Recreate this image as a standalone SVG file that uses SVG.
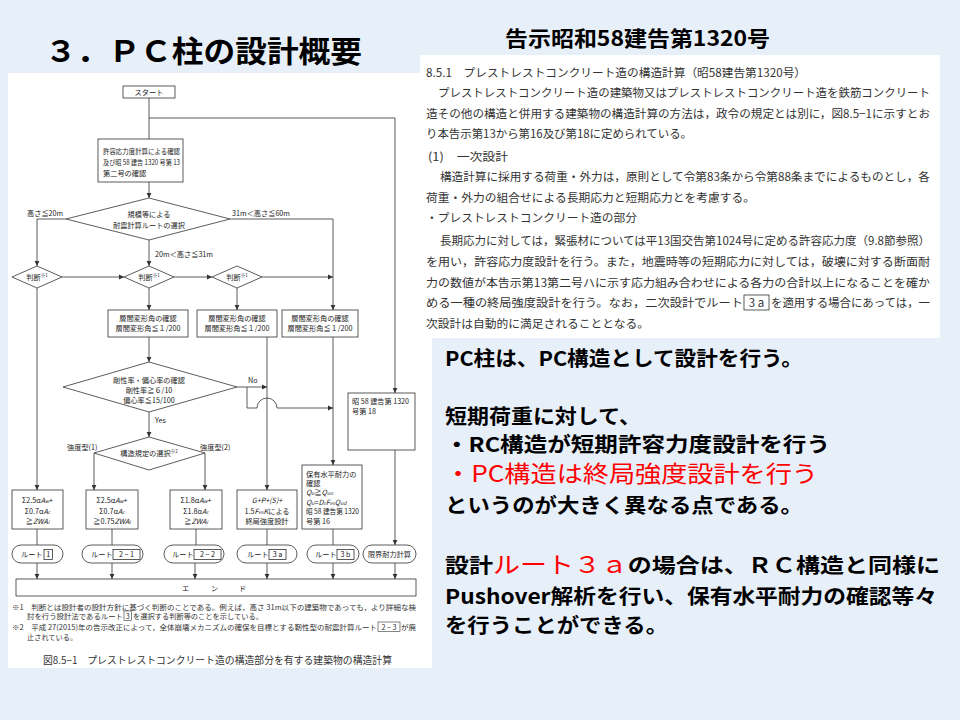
<svg xmlns="http://www.w3.org/2000/svg" width="960" height="720" viewBox="0 0 960 720">
<style>
.ln{fill:none;stroke:#333;stroke-width:0.8}
.bx{fill:#fff;stroke:#333;stroke-width:0.8}
.ft{font-family:"Noto Sans CJK JP","Noto Sans CJK SC",sans-serif;font-size:7.2px;fill:#222}
.fn{font-family:"Noto Sans CJK JP",sans-serif;font-size:7.2px;fill:#333}
.c{text-anchor:middle}
.it{font-style:italic}
.rt{font-family:"Noto Sans CJK JP",sans-serif;font-size:11.5px;fill:#333}
.big{font-family:"Noto Sans CJK JP",sans-serif;font-size:20.5px;font-weight:bold;fill:#000}
.red{fill:#ff0000;font-weight:normal;font-size:23px}
</style>
<defs>
<marker id="ah" markerWidth="6" markerHeight="6" refX="5" refY="3" orient="auto" markerUnits="userSpaceOnUse"><path d="M0,0.6 L5,3 L0,5.4 Z" fill="#333"/></marker>
</defs>
<rect width="960" height="720" fill="#e7eff9"/>
<rect x="8" y="73" width="424" height="595" fill="#fff"/>
<rect x="420" y="55" width="520" height="283" fill="#fff"/>

<text x="45" y="62" font-family="'Noto Sans CJK JP',sans-serif" font-size="30" font-weight="bold" fill="#000" textLength="317" lengthAdjust="spacingAndGlyphs">３．ＰＣ柱の設計概要</text>
<text x="505" y="46" font-family="'Noto Sans CJK JP',sans-serif" font-size="21" font-weight="bold" fill="#000" textLength="265" lengthAdjust="spacingAndGlyphs">告示昭和58建告第1320号</text>

<g id="connectors">
<path class="ln" d="M149,98 V139"/>
<path class="ln" d="M149,118 H395 V393" marker-end="url(#ah)"/>
<path class="ln" d="M149,182 V198" marker-end="url(#ah)"/>
<path class="ln" d="M66,219 H37 V266" marker-end="url(#ah)"/>
<path class="ln" d="M230,219 H333 V310" marker-end="url(#ah)"/>
<path class="ln" d="M149,240 V266" marker-end="url(#ah)"/>
<path class="ln" d="M62,277 H124" marker-end="url(#ah)"/>
<path class="ln" d="M174,277 H212" marker-end="url(#ah)"/>
<path class="ln" d="M262,277 H333" marker-end="url(#ah)"/>
<path class="ln" d="M37,288 V490" marker-end="url(#ah)"/>
<path class="ln" d="M149,288 V310" marker-end="url(#ah)"/>
<path class="ln" d="M237,288 V310" marker-end="url(#ah)"/>
<path class="ln" d="M149,337 V362" marker-end="url(#ah)"/>
<path class="ln" d="M267,337 V490" marker-end="url(#ah)"/>
<path class="ln" d="M333,337 V465" marker-end="url(#ah)"/>
<path class="ln" d="M237,387 H267" marker-end="url(#ah)"/>
<path class="ln" d="M247,387 V408 H257 A10,10 0 0 1 277,408 H333" marker-end="url(#ah)"/>
<path class="ln" d="M149,412 V437" marker-end="url(#ah)"/>
<path class="ln" d="M94,453 V490" marker-end="url(#ah)"/>
<path class="ln" d="M205,453 V490" marker-end="url(#ah)"/>
<path class="ln" d="M395,450 V545" marker-end="url(#ah)"/>
<path class="ln" d="M37,529 V545 M112,529 V545 M196,529 V545 M267,529 V545 M333,529 V545"/>
<path class="ln" d="M37,563 V579" marker-end="url(#ah)"/>
<path class="ln" d="M112,563 V579" marker-end="url(#ah)"/>
<path class="ln" d="M195,563 V579" marker-end="url(#ah)"/>
<path class="ln" d="M267,563 V579" marker-end="url(#ah)"/>
<path class="ln" d="M333,563 V579" marker-end="url(#ah)"/>
<path class="ln" d="M395,563 V579" marker-end="url(#ah)"/>
<text class="ft" x="27" y="216">高さ≦20m</text>
<text class="ft" x="232" y="216">31m＜高さ≦60m</text>
<text class="ft" x="155" y="257">20m＜高さ≦31m</text>
<text class="ft" x="248" y="383">No</text>
<text class="ft" x="155" y="423">Yes</text>
<text class="ft" x="67" y="450">強度型(1)</text>
<text class="ft" x="200" y="450">強度型(2)</text>
</g>

<g id="start"><rect class="bx" x="123" y="86" width="52" height="12"/><text class="ft c" x="149" y="95">スタート</text></g>
<g id="allowable-stress"><rect class="bx" x="98" y="139" width="85" height="43"/>
<text class="ft" x="103" y="154" textLength="77" lengthAdjust="spacingAndGlyphs">許容応力度計算による確認</text>
<text class="ft" x="103" y="165" textLength="77" lengthAdjust="spacingAndGlyphs">及び昭 58 建告 1320 号第 13</text>
<text class="ft" x="103" y="176">第二号の確認</text></g>
<g id="route-select"><polygon class="bx" points="149,198 230,219 149,240 66,219"/>
<text class="ft c" x="149" y="217">規模等による</text><text class="ft c" x="149" y="228">耐震計算ルートの選択</text></g>
<g id="judge-1"><polygon class="bx" points="37,266 62,277 37,288 12,277"/><text class="ft c" x="37" y="280">判断<tspan font-size="4.5" dy="-3">※1</tspan></text></g>
<g id="judge-2"><polygon class="bx" points="149,266 174,277 149,288 124,277"/><text class="ft c" x="149" y="280">判断<tspan font-size="4.5" dy="-3">※1</tspan></text></g>
<g id="judge-3"><polygon class="bx" points="237,266 262,277 237,288 212,277"/><text class="ft c" x="237" y="280">判断<tspan font-size="4.5" dy="-3">※1</tspan></text></g>
<g id="drift-1"><rect class="bx" x="108" y="310" width="80" height="27"/><text class="ft c" x="148" y="321">層間変形角の確認</text><text class="ft c" x="148" y="331">層間変形角≦１/200</text></g>
<g id="drift-2"><rect class="bx" x="197" y="310" width="80" height="27"/><text class="ft c" x="237" y="321">層間変形角の確認</text><text class="ft c" x="237" y="331">層間変形角≦１/200</text></g>
<g id="drift-3"><rect class="bx" x="282" y="310" width="76" height="27"/><text class="ft c" x="320" y="321">層間変形角の確認</text><text class="ft c" x="320" y="331">層間変形角≦１/200</text></g>
<g id="stiffness"><polygon class="bx" points="149,362 237,387 149,412 63,387"/>
<text class="ft c" x="149" y="383">剛性率・偏心率の確認</text><text class="ft c" x="149" y="393">剛性率≧６/10</text><text class="ft c" x="149" y="403">偏心率≦15/100</text></g>
<g id="structure-select"><polygon class="bx" points="149,437 205,453 149,470 94,453"/><text class="ft c" x="149" y="456">構造規定の選択<tspan font-size="4.5" dy="-3">※2</tspan></text></g>
<g id="art18"><rect class="bx" x="348" y="393" width="67" height="57"/><text class="ft" x="352" y="404" textLength="57" lengthAdjust="spacingAndGlyphs">昭 58 建告第 1320</text><text class="ft" x="352" y="414">号第 18</text></g>

<g id="wall-1"><rect class="bx" x="12" y="490" width="51" height="39"/>
<text class="ft c" x="37.5" y="503">Σ2.5α<tspan class="it">A</tspan><tspan class="it" font-size="5">w</tspan>+</text>
<text class="ft c" x="37.5" y="514">Σ0.7α<tspan class="it">A</tspan><tspan class="it" font-size="5">c</tspan></text>
<text class="ft c" x="37.5" y="524">≧<tspan class="it">ZWA</tspan><tspan class="it" font-size="5">i</tspan></text></g>
<g id="wall-2"><rect class="bx" x="86" y="490" width="52" height="39"/>
<text class="ft c" x="112" y="503">Σ2.5α<tspan class="it">A</tspan><tspan class="it" font-size="5">w</tspan>+</text>
<text class="ft c" x="112" y="514">Σ0.7α<tspan class="it">A</tspan><tspan class="it" font-size="5">c</tspan></text>
<text class="ft c" x="112" y="524">≧0.75<tspan class="it">ZWA</tspan><tspan class="it" font-size="5">i</tspan></text></g>
<g id="wall-3"><rect class="bx" x="170" y="490" width="52" height="39"/>
<text class="ft c" x="196" y="503">Σ1.8α<tspan class="it">A</tspan><tspan class="it" font-size="5">w</tspan>+</text>
<text class="ft c" x="196" y="514">Σ1.8α<tspan class="it">A</tspan><tspan class="it" font-size="5">c</tspan></text>
<text class="ft c" x="196" y="524">≧<tspan class="it">ZWA</tspan><tspan class="it" font-size="5">i</tspan></text></g>
<g id="ultimate"><rect class="bx" x="237" y="490" width="60" height="39"/>
<text class="ft c it" x="267" y="503">G+P+(S)+</text>
<text class="ft c" x="267" y="514">1.5<tspan class="it">F</tspan><tspan class="it" font-size="5">es</tspan><tspan class="it">K</tspan>による</text>
<text class="ft c" x="267" y="524">終局強度設計</text></g>
<g id="capacity"><rect class="bx" x="302" y="465" width="60" height="64"/>
<text class="ft" x="306" y="477">保有水平耐力の</text>
<text class="ft" x="306" y="486">確認</text>
<text class="ft" x="306" y="495"><tspan class="it">Q</tspan><tspan class="it" font-size="5">u</tspan>≧<tspan class="it">Q</tspan><tspan class="it" font-size="5">un</tspan></text>
<text class="ft" x="306" y="505"><tspan class="it">Q</tspan><tspan class="it" font-size="5">u</tspan>=<tspan class="it">D</tspan><tspan class="it" font-size="5">s</tspan><tspan class="it">F</tspan><tspan class="it" font-size="5">es</tspan><tspan class="it">Q</tspan><tspan class="it" font-size="5">ud</tspan></text>
<text class="ft" x="306" y="514" textLength="53" lengthAdjust="spacingAndGlyphs">昭 58 建告第 1320</text>
<text class="ft" x="306" y="524">号第 16</text></g>

<g id="route-1"><rect class="bx" x="12" y="545" width="51" height="18" rx="9"/><text class="ft" x="21" y="557">ルート</text><rect class="bx" x="44" y="549.5" width="8.5" height="10"/><text class="ft c" x="48.2" y="557">1</text></g>
<g id="route-2-1"><rect class="bx" x="82" y="545" width="61" height="18" rx="9"/><text class="ft" x="91" y="557">ルート</text><rect class="bx" x="113" y="549.5" width="27" height="10"/><text class="ft c" x="126.5" y="557">2 − 1</text></g>
<g id="route-2-2"><rect class="bx" x="164" y="545" width="60" height="18" rx="9"/><text class="ft" x="172" y="557">ルート</text><rect class="bx" x="194" y="549.5" width="27" height="10"/><text class="ft c" x="207.5" y="557">2 − 2</text></g>
<g id="route-3a"><rect class="bx" x="237" y="545" width="60" height="18" rx="9"/><text class="ft" x="247" y="557">ルート</text><rect class="bx" x="269" y="549.5" width="17" height="10"/><text class="ft c" x="277.5" y="557">3 a</text></g>
<g id="route-3b"><rect class="bx" x="307" y="545" width="52" height="18" rx="9"/><text class="ft" x="315" y="557">ルート</text><rect class="bx" x="337" y="549.5" width="17" height="10"/><text class="ft c" x="345.5" y="557">3 b</text></g>
<g id="limit-strength"><rect class="bx" x="363" y="545" width="53" height="18" rx="9"/><text class="ft c" x="389.5" y="557">限界耐力計算</text></g>
<g id="end"><rect class="bx" x="16" y="579" width="400" height="17"/><text class="ft" x="182 211 239" y="591">エンド</text></g>

<g id="footnotes">
<text class="fn" x="12" y="610" textLength="404" lengthAdjust="spacingAndGlyphs">※1　判断とは設計者の設計方針に基づく判断のことである。例えば，高さ 31m以下の建築物であっても，より詳細な検</text>
<text class="fn" x="27" y="619" textLength="96" lengthAdjust="spacingAndGlyphs">討を行う設計法であるルート</text>
<rect x="124" y="611" width="7.5" height="9.5" fill="none" stroke="#333" stroke-width="0.6"/><text class="fn c" x="127.7" y="619">3</text>
<text class="fn" x="133" y="619" textLength="130" lengthAdjust="spacingAndGlyphs">を選択する判断等のことを示している。</text>
<text class="fn" x="12" y="630" textLength="365" lengthAdjust="spacingAndGlyphs">※2　平成 27(2015)年の告示改正によって，全体崩壊メカニズムの確保を目標とする靭性型の耐震計算ルート</text>
<rect x="378" y="622" width="22" height="9.5" fill="none" stroke="#333" stroke-width="0.6"/><text class="fn c" x="389" y="630">2 − 3</text>
<text class="fn" x="401" y="630" textLength="15" lengthAdjust="spacingAndGlyphs">が廃</text>
<text class="fn" x="27" y="640">止されている。</text>
<text x="43" y="664" font-family="'Noto Sans CJK JP',sans-serif" font-size="10" fill="#333" textLength="349" lengthAdjust="spacingAndGlyphs">図8.5−1　プレストレストコンクリート造の構造部分を有する建築物の構造計算</text>
</g>

<g id="article-text">
<text class="rt" x="426" y="77" font-size="10.5" fill="#222" textLength="380" lengthAdjust="spacingAndGlyphs">8.5.1　プレストレストコンクリート造の構造計算（昭58建告第1320号）</text>
<text class="rt" x="438" y="97" textLength="492" lengthAdjust="spacingAndGlyphs">プレストレストコンクリート造の建築物又はプレストレストコンクリート造を鉄筋コンクリート</text>
<text class="rt" x="426" y="118" textLength="504" lengthAdjust="spacingAndGlyphs">造その他の構造と併用する建築物の構造計算の方法は，政令の規定とは別に，図8.5−1に示すとお</text>
<text class="rt" x="426" y="138" textLength="266" lengthAdjust="spacingAndGlyphs">り本告示第13から第16及び第18に定められている。</text>
<text class="rt" x="428" y="161" textLength="80" lengthAdjust="spacingAndGlyphs">(1)　一次設計</text>
<text class="rt" x="440" y="181" textLength="490" lengthAdjust="spacingAndGlyphs">構造計算に採用する荷重・外力は，原則として令第83条から令第88条までによるものとし，各</text>
<text class="rt" x="426" y="202" textLength="329" lengthAdjust="spacingAndGlyphs">荷重・外力の組合せによる長期応力と短期応力とを考慮する。</text>
<text class="rt" x="426" y="222" textLength="211" lengthAdjust="spacingAndGlyphs">・プレストレストコンクリート造の部分</text>
<text class="rt" x="440" y="245" textLength="490" lengthAdjust="spacingAndGlyphs">長期応力に対しては，緊張材については平13国交告第1024号に定める許容応力度（9.8節参照）</text>
<text class="rt" x="426" y="266" textLength="504" lengthAdjust="spacingAndGlyphs">を用い，許容応力度設計を行う。また，地震時等の短期応力に対しては，破壊に対する断面耐</text>
<text class="rt" x="426" y="287" textLength="504" lengthAdjust="spacingAndGlyphs">力の数値が本告示第13第二号ハに示す応力組み合わせによる各力の合計以上になることを確か</text>
<text class="rt" x="426" y="307" textLength="317" lengthAdjust="spacingAndGlyphs">める一種の終局強度設計を行う。なお，二次設計でルート</text>
<rect x="744" y="295" width="25" height="15" fill="none" stroke="#333" stroke-width="0.8"/>
<text class="rt c" x="756.5" y="307">3 a</text>
<text class="rt" x="771" y="307" textLength="159" lengthAdjust="spacingAndGlyphs">を適用する場合にあっては，一</text>
<text class="rt" x="426" y="328" textLength="223" lengthAdjust="spacingAndGlyphs">次設計は自動的に満足されることとなる。</text>
</g>

<g id="summary">
<text class="big" x="445" y="366" textLength="358" lengthAdjust="spacingAndGlyphs">PC柱は、PC構造として設計を行う。</text>
<text class="big" x="445" y="424" textLength="196" lengthAdjust="spacingAndGlyphs">短期荷重に対して、</text>
<text class="big" x="445" y="452" textLength="385" lengthAdjust="spacingAndGlyphs">・RC構造が短期許容力度設計を行う</text>
<text class="big red" x="445" y="482" textLength="373" lengthAdjust="spacingAndGlyphs">・PC構造は終局強度設計を行う</text>
<text class="big" x="445" y="513" textLength="358" lengthAdjust="spacingAndGlyphs">というのが大きく異なる点である。</text>
<text class="big" x="445" y="573" textLength="495" lengthAdjust="spacingAndGlyphs">設計<tspan class="red">ルート３ａ</tspan>の場合は、ＲＣ構造と同様に</text>
<text class="big" x="445" y="604" textLength="492" lengthAdjust="spacingAndGlyphs">Pushover解析を行い、保有水平耐力の確認等々</text>
<text class="big" x="445" y="633" textLength="223" lengthAdjust="spacingAndGlyphs">を行うことができる。</text>
</g>
</svg>
